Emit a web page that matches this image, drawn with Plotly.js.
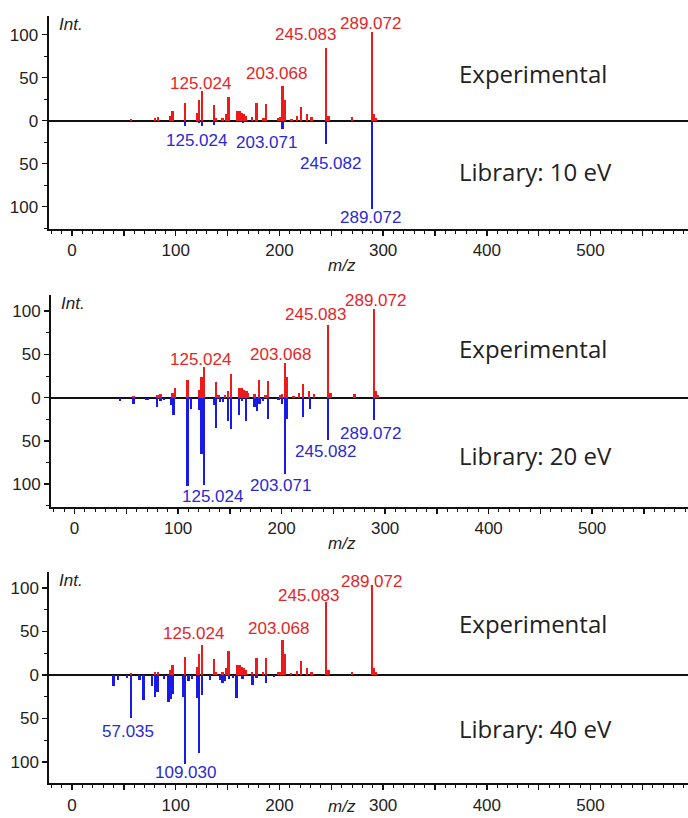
<!DOCTYPE html>
<html>
<head>
<meta charset="utf-8">
<script src="https://cdn.plot.ly/plotly-3.0.1.min.js"></script>
<style>html,body{margin:0;padding:0;background:#fff;}#chart{width:688px;height:818px;}</style>
</head>
<body>
<div id="chart"></div>
<script>
// Experimental spectrum (same in all three panels)
const expMz  = [57, 80, 83, 94.5, 97, 109, 120.5, 122.6, 125, 136.8, 139, 145, 148.5, 151, 159.3, 161.4, 163.6, 166, 167.8, 173.8, 178, 184.5, 187, 198.5, 200.6, 203, 205.1, 211.5, 216.7, 220.6, 226.3, 231, 245, 247.2, 270.3, 289, 291, 293.4];
const expInt = [2, 3, 4, 6, 11, 21, 9, 24, 35, 18, 3, 3, 8, 27, 11, 11, 9, 8, 6, 4, 20, 3, 19, 3, 4, 40, 24, 2, 5, 16, 8, 4, 84, 6, 4, 103, 8, 3];

// Library spectra (intensities plotted downward)
const lib10Mz  = [109, 112.8, 122.5, 125, 137, 165, 178, 187, 203, 245, 289];
const lib10Int = [6, 2, 3, 6, 5, 3, 2, 2, 10, 27, 103];

const lib20Mz  = [44, 57, 69, 71, 79.5, 83, 86.5, 93, 95.5, 109, 112.2, 120, 122.5, 125, 134.5, 136.5, 140.5, 143.5, 148.3, 151.1, 159.1, 162, 165.6, 173.8, 176.2, 178.7, 182.3, 187.1, 197, 200.5, 203, 205, 220.4, 227.4, 245, 289];
const lib20Int = [4, 7, 3, 3, 11, 4, 3, 8, 20, 102, 13, 14, 65, 101, 8, 35, 5, 5, 27, 36, 20, 4, 27, 11, 15, 7, 4, 25, 3, 7, 88, 25, 22, 13, 49, 26];

const lib40Mz  = [40, 44.5, 53, 57, 65, 69, 77, 80, 82.5, 89, 93, 95, 97, 107, 109, 112.2, 115.4, 120.5, 122.5, 125, 133, 143, 145, 147.5, 151.5, 155.5, 158.5, 164.5, 174, 178, 187, 195];
const lib40Int = [13, 6, 3, 50, 6, 29, 13, 25, 19, 5, 31, 28, 22, 25, 102, 7, 5, 27, 90, 23, 6, 6, 9, 7, 5, 3, 26, 5, 12, 3, 9, 2];

const yTickVals = [-100, -50, 0, 50, 100];
const yTickText = ['100', '50', '0', '50', '100'];
const xTickVals = [0, 50, 100, 150, 200, 250, 300, 350, 400, 450, 500, 550];
const xTickText = ['0', '', '100', '', '200', '', '300', '', '400', '', '500', ''];

const expLabels   = ['125.024', '203.068', '245.083', '289.072'];
const lib10Labels = ['125.024', '203.071', '245.082', '289.072'];
const lib20Labels = ['125.024', '203.071', '245.082', '289.072'];
const lib40Labels = ['57.035', '109.030'];
const panelNames  = ['Library: 10 eV', 'Library: 20 eV', 'Library: 40 eV'];

const RED = '#ee1a1a', BLUE = '#1a1ae8';
const RED_T = '#e3262a', BLUE_T = '#2a2ad2';
const W = 688, H = 818;
const neg = a => a.map(v => -v);

const traces = [];
function addPanel(i, libMz, libInt) {
  const xa = i === 0 ? 'x' : 'x' + (i + 1);
  const ya = i === 0 ? 'y' : 'y' + (i + 1);
  traces.push({type: 'bar', x: expMz, y: expInt, width: 2.2, xaxis: xa, yaxis: ya,
    marker: {color: RED, line: {width: 0}}, hoverinfo: 'x+y'});
  traces.push({type: 'bar', x: libMz, y: neg(libInt), width: 2.2, xaxis: xa, yaxis: ya,
    marker: {color: BLUE, line: {width: 0}}, hoverinfo: 'x+y'});
}
addPanel(0, lib10Mz, lib10Int);
addPanel(1, lib20Mz, lib20Int);
addPanel(2, lib40Mz, lib40Int);

// pixel geometry of each panel
const panels = [
  {left: 48.5, top: 16,    bottom: 229,   xr: [-22.7, 594],   yr: [-125.9, 121.7]},
  {left: 51,   top: 295,   bottom: 506.7, xr: [-22.8, 592.6], yr: [-126, 118.7]},
  {left: 49.3, top: 571.7, bottom: 783.3, xr: [-21.9, 594],   yr: [-124.5, 118.7]}
];

const layout = {
  width: W, height: H,
  margin: {l: 0, r: 0, t: 0, b: 0, pad: 0},
  paper_bgcolor: '#fff', plot_bgcolor: '#fff',
  showlegend: false, barmode: 'overlay', bargap: 0,
  font: {family: 'Liberation Sans, Arial, sans-serif', color: '#222'},
  annotations: []
};

panels.forEach((p, i) => {
  const sx = i === 0 ? '' : String(i + 1);
  layout['xaxis' + sx] = {
    domain: [p.left / W, 1], range: p.xr, anchor: 'y' + sx,
    showline: true, linecolor: '#111', linewidth: 2, mirror: false,
    showgrid: false, zeroline: false,
    tickmode: 'array', tickvals: xTickVals, ticktext: xTickText,
    ticks: 'outside', ticklen: 5, tickwidth: 1.5, tickcolor: '#111',
    minor: {dtick: 10, ticks: 'outside', ticklen: 3, tickwidth: 1, tickcolor: '#111', showgrid: false},
    tickfont: {size: 17, color: '#222', family: 'Liberation Sans, Arial, sans-serif'},
    automargin: false, fixedrange: true
  };
  layout['yaxis' + sx] = {
    domain: [1 - p.bottom / H, 1 - p.top / H], range: p.yr, anchor: 'x' + sx,
    showline: true, linecolor: '#111', linewidth: 2,
    showgrid: false, zeroline: true, zerolinecolor: '#111', zerolinewidth: 2,
    tickmode: 'array', tickvals: yTickVals, ticktext: yTickText,
    ticks: 'outside', ticklen: 5, tickwidth: 1.5, tickcolor: '#111',
    minor: {dtick: 25, ticks: 'outside', ticklen: 3, tickwidth: 1, tickcolor: '#111', showgrid: false},
    tickfont: {size: 17, color: '#222', family: 'Liberation Sans, Arial, sans-serif'},
    automargin: false, fixedrange: true
  };
});

function peakLabel(i, text, x, y, color) {
  const sx = i === 0 ? '' : String(i + 1);
  layout.annotations.push({xref: 'x' + sx, yref: 'y' + sx, x: x, y: y, text: text,
    showarrow: false, xanchor: 'center', yanchor: 'middle',
    font: {size: 17, color: color, family: 'Liberation Sans, Arial, sans-serif'}});
}
// Panel 1
[[123.4, 43.8], [196.7, 54.3], [224.7, 99.7], [288, 112.4]].forEach((q, k) => peakLabel(0, expLabels[k], q[0], q[1], RED_T));
[[119.6, -23.6], [188, -25.9], [248.8, -49.2], [287.4, -113]].forEach((q, k) => peakLabel(0, lib10Labels[k], q[0], q[1], BLUE_T));
// Panel 2
[[121.2, 44.4], [198.5, 50.5], [232.3, 96.4], [290.9, 111.8]].forEach((q, k) => peakLabel(1, expLabels[k], q[0], q[1], RED_T));
[[133.4, -114.5], [198.5, -102], [242, -62.4], [285.4, -41.2]].forEach((q, k) => peakLabel(1, lib20Labels[k], q[0], q[1], BLUE_T));
// Panel 3
[[117, 48], [199, 53], [227.9, 91], [289, 107]].forEach((q, k) => peakLabel(2, expLabels[k], q[0], q[1], RED_T));
[[53.7, -65], [109.6, -112]].forEach((q, k) => peakLabel(2, lib40Labels[k], q[0], q[1], BLUE_T));

// Panel texts
const textY = [[73, 172, 25, 265], [348.3, 455, 304, 543], [623.3, 728.3, 580, 806]];
textY.forEach((t, i) => {
  layout.annotations.push({xref: 'paper', yref: 'paper', x: 457 / W, y: 1 - t[0] / H, text: 'Experimental',
    showarrow: false, xanchor: 'left', yanchor: 'middle',
    font: {size: 24, color: '#222', family: 'Open Sans, sans-serif'}});
  layout.annotations.push({xref: 'paper', yref: 'paper', x: 457 / W, y: 1 - t[1] / H, text: panelNames[i],
    showarrow: false, xanchor: 'left', yanchor: 'middle',
    font: {size: 24, color: '#222', family: 'Open Sans, sans-serif'}});
  layout.annotations.push({xref: 'paper', yref: 'paper', x: (panels[i].left + 8) / W, y: 1 - t[2] / H, text: '<i>Int.</i>',
    showarrow: false, xanchor: 'left', yanchor: 'middle',
    font: {size: 17, color: '#222', family: 'Liberation Sans, Arial, sans-serif'}});
  layout.annotations.push({xref: 'paper', yref: 'paper', x: 341.5 / W, y: 1 - t[3] / H, text: '<i>m/z</i>',
    showarrow: false, xanchor: 'center', yanchor: 'middle',
    font: {size: 17, color: '#222', family: 'Liberation Sans, Arial, sans-serif'}});
});

Plotly.newPlot('chart', traces, layout, {staticPlot: true, displayModeBar: false});
</script>
</body>
</html>
